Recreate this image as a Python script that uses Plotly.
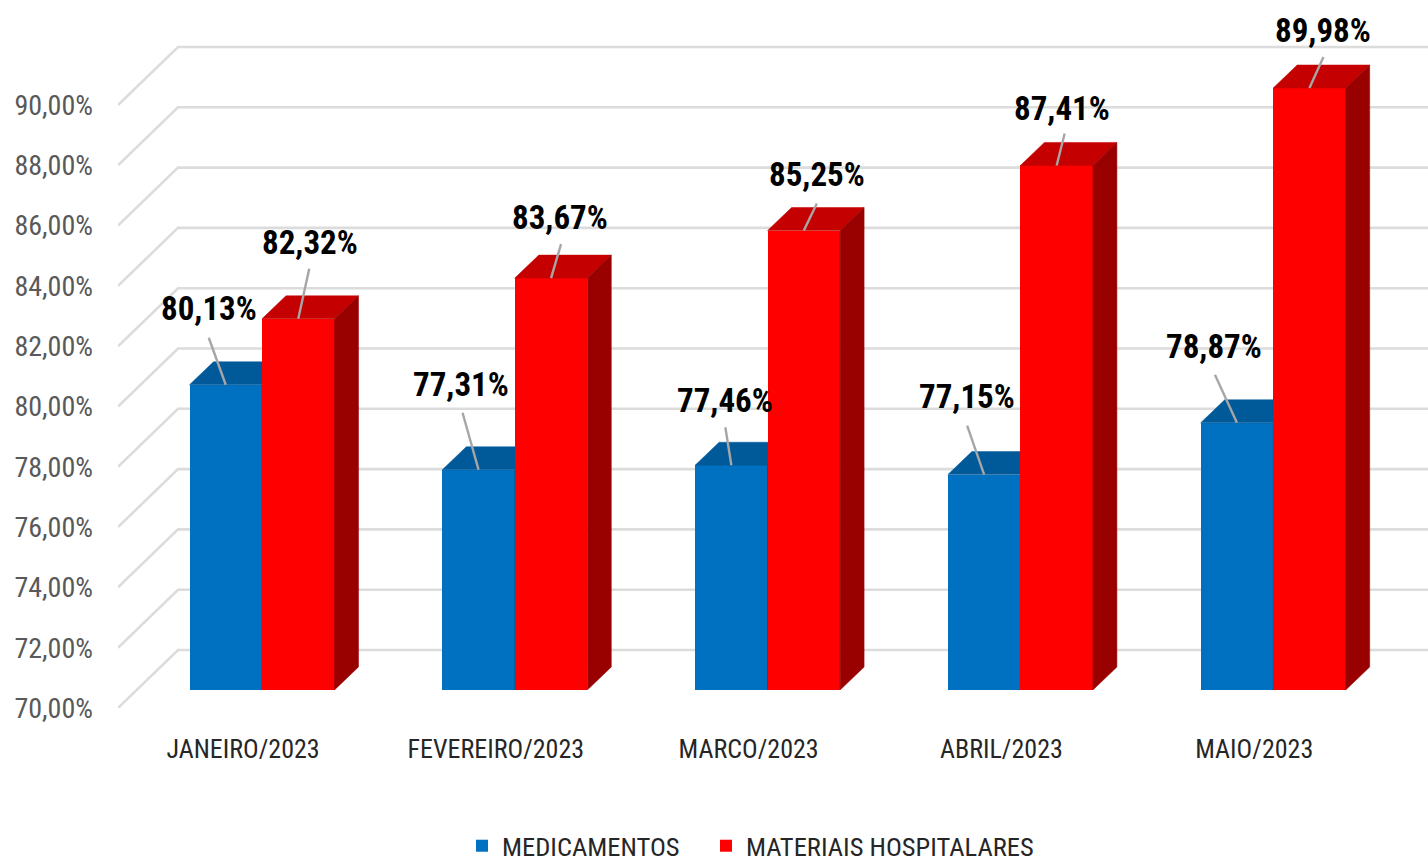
import plotly.graph_objects as go

months = ["JANEIRO/2023", "FEVEREIRO/2023", "MARCO/2023", "ABRIL/2023", "MAIO/2023"]
medicamentos = [80.13, 77.31, 77.46, 77.15, 78.87]
materiais = [82.32, 83.67, 85.25, 87.41, 89.98]
tick_values = [70, 72, 74, 76, 78, 80, 82, 84, 86, 88, 90]
tick_labels = ["70,00%", "72,00%", "74,00%", "76,00%", "78,00%", "80,00%",
               "82,00%", "84,00%", "86,00%", "88,00%", "90,00%"]

# label / leader offsets, in pixels from the top-centre of each bar (dx, dy downwards)
med_label = [(-17, -76), (-18, -85), (-6, -65), (-17, -78), (-23, -76)]
med_start = [(-17, -47), (-16, -57), (-6, -38), (-17, -49), (-22, -48)]
mat_label = [(12, -76), (9, -61), (13, -56), (5, -57), (14, -58)]
mat_start = [(11, -50), (10, -34), (13, -27), (8, -32), (14, -31)]

W, H = 1428, 861
LEFT, BOTTOM = 118, 708
UX = 252.8          # pixels per category
UY_AXIS = 30.15     # pixels per percent, axis
UY_BAR = 30.13      # pixels per percent, bars
FLOOR_PX = 690
x0 = (LEFT - 262) / UX
x1 = (W - 262) / UX
BAR_W = 72.5 / UX
DX, DY = 24 / UX, 23 / UY_BAR
WALL_X, WALL_Y = 60 / UX, 58 / UY_AXIS
FONT = "Roboto Condensed, Carlito, sans-serif"
BLUE, BLUE_TOP, BLUE_SIDE = "#0070C0", "#005A9A", "#004A80"
RED, RED_TOP, RED_SIDE = "#FF0000", "#C50000", "#990000"
GRID = "#DCDCDC"
LEAD = "#A6A6A6"

fig = go.Figure()

# wall grid lines, built from the axis ticks
gx, gy = [], []
for t in tick_values:
    gx += [x0, x0 + WALL_X, x1, None]
    gy += [t, t + WALL_Y, t + WALL_Y, None]
fig.add_trace(go.Scatter(x=gx, y=gy, mode="lines", line=dict(color=GRID, width=2.6),
                         hoverinfo="skip", showlegend=False, xaxis="x", yaxis="y"))


def poly(xs, ys, color, ax, ay):
    fig.add_trace(go.Scatter(x=xs, y=ys, mode="lines", fill="toself", fillcolor=color,
                             line=dict(color=color, width=0.5), hoverinfo="skip",
                             showlegend=False, xaxis=ax, yaxis=ay))


def series(name, values, shift, front, top, side, ax, ay, label, start, legend):
    xs = [i + shift for i in range(len(values))]
    fig.add_trace(go.Bar(x=xs, y=values, width=BAR_W, name=name, marker=dict(color=front, line_width=0),
                         xaxis=ax, yaxis=ay, legend=legend,
                         hovertemplate="%{y:.2f}%<extra>" + name + "</extra>"))
    for x, v in zip(xs, values):
        l, r = x - BAR_W / 2, x + BAR_W / 2
        poly([l, l + DX, r + DX, r, l], [v, v + DY, v + DY, v, v], top, ax, ay)
        poly([r, r + DX, r + DX, r, r], [70, 70 + DY, v + DY, v, 70], side, ax, ay)
    for x, v, lb, st in zip(xs, values, label, start):
        fig.add_trace(go.Scatter(x=[x + st[0] / UX, x], y=[v - st[1] / UY_BAR, v], mode="lines",
                                 line=dict(color=LEAD, width=2.4), hoverinfo="skip",
                                 showlegend=False, xaxis="x3", yaxis="y3"))
        fig.add_annotation(x=x, y=v, xref="x3", yref="y3", xshift=lb[0], yshift=-lb[1],
                           text=f"<b>{v:.2f}%</b>".replace(".", ","), showarrow=False,
                           font=dict(family=FONT, size=33, color="#000000"))


series("MEDICAMENTOS", medicamentos, -BAR_W / 2, BLUE, BLUE_TOP, BLUE_SIDE, "x2", "y2",
       med_label, med_start, "legend")
series("MATERIAIS HOSPITALARES", materiais, BAR_W / 2, RED, RED_TOP, RED_SIDE, "x3", "y3",
       mat_label, mat_start, "legend2")

hidden_x = dict(range=[x0, x1], visible=False, fixedrange=True)
bar_range = [70, 70 + FLOOR_PX / UY_BAR]
bar_domain = [(BOTTOM - FLOOR_PX) / BOTTOM, 1]
legend_common = dict(orientation="h", xanchor="left", yref="container", y=(H - 822) / H, yanchor="top",
                     font=dict(family=FONT, size=26.5, color="#262626"), bgcolor="rgba(0,0,0,0)")
fig.update_layout(
    width=W, height=H,
    margin=dict(l=LEFT, r=0, t=0, b=H - BOTTOM, pad=0),
    paper_bgcolor="#FFFFFF", plot_bgcolor="rgba(0,0,0,0)",
    barmode="overlay", bargap=0,
    xaxis=dict(range=[x0, x1], tickmode="array", tickvals=[i - 0.075 for i in range(len(months))],
               ticktext=months, showgrid=False, zeroline=False, showline=False, ticks="",
               ticklabelstandoff=23, tickangle=0,
               tickfont=dict(family=FONT, size=26, color="#262626")),
    yaxis=dict(range=[70, 70 + BOTTOM / UY_AXIS], tickmode="array", tickvals=tick_values,
               ticktext=tick_labels, showgrid=False, zeroline=False, showline=False, ticks="",
               ticklabelstandoff=24, tickfont=dict(family=FONT, size=28, color="#595959")),
    xaxis2=dict(hidden_x, anchor="y2"),
    yaxis2=dict(range=bar_range, domain=bar_domain, anchor="x2", visible=False, fixedrange=True),
    xaxis3=dict(hidden_x, anchor="y3"),
    yaxis3=dict(range=bar_range, domain=bar_domain, anchor="x3", visible=False, fixedrange=True),
    legend=dict(legend_common, x=(462 - LEFT) / (W - LEFT)),
    legend2=dict(legend_common, x=(706 - LEFT) / (W - LEFT)),
    showlegend=True,
)

fig.write_html("out.html", config=dict(displayModeBar=False),
               post_script="document.body.style.margin='0';")
